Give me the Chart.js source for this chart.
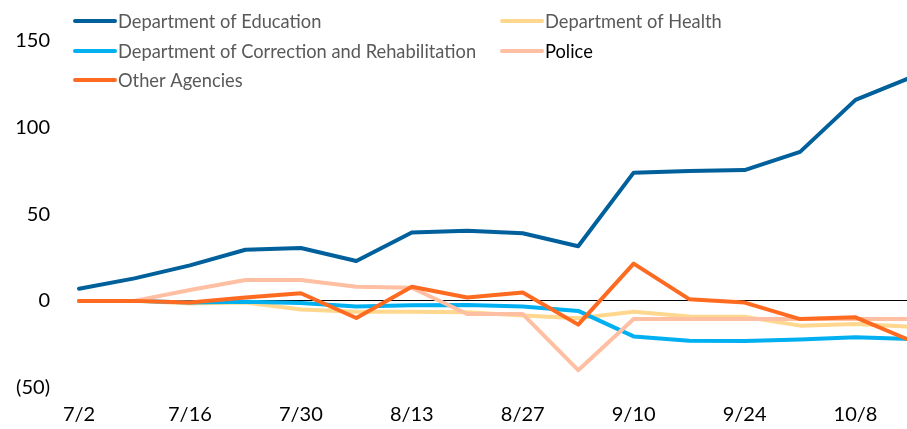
<!DOCTYPE html>
<html>
<head>
<meta charset="utf-8">
<script src="https://cdn.jsdelivr.net/npm/chart.js@4"></script>
<style>
  html, body { margin: 0; padding: 0; background: #fff; }
  #wrap { width: 907px; height: 429px; overflow: hidden; position: relative; }
</style>
</head>
<body>
<div id="wrap">
  <!-- wider than the window: the last week is cut off at the right edge, like the original -->
  <canvas id="myChart" width="926" height="429"></canvas>
</div>
<script>
// weekly dates, only every other one gets a tick label
const weeks = ['7/2', '7/9', '7/16', '7/23', '7/30', '8/6', '8/13', '8/20',
  '8/27', '9/3', '9/10', '9/17', '9/24', '10/1', '10/8', '10/15'];

const education = [7, 13, 20.5, 29.5, 30.5, 23, 39.5, 40.5, 39, 31.5, 74, 75, 75.5, 86, 116, 129];
const health = [0, 0, -1.5, -1, -5, -6.3, -6.3, -6.5, -8.5, -10, -6.3, -9, -9.2, -14.3, -13.3, -15];
const correction = [0, 0, -1, -0.5, -1.2, -3.2, -2.5, -2.4, -3.2, -5.8, -20.5, -23, -23.2, -22.3, -21, -22];
const police = [0, 0, 6.3, 12, 12, 8.2, 7.6, -7.6, -7.6, -40, -10.5, -10.5, -10.5, -10.5, -10.5, -10.5];
const other = [0, 0, -1, 1.9, 4.4, -9.9, 8.2, 1.9, 4.8, -13.7, 21.5, 1, -1, -10.5, -9.5, -23];

const yTicks = [-50, 0, 50, 100, 150];

const FONT = 'Lato, "Open Sans", sans-serif';

// legend drawn in two columns, filled row by row like the original
const legendPlugin = {
  id: 'twoColLegend',
  afterDraw(chart) {
    const ctx = chart.ctx;
    const colX = [75, 502];
    const rowY = [21, 51, 80];
    ctx.save();
    ctx.font = '18.3px ' + FONT;
    ctx.textBaseline = 'middle';
    chart.data.datasets.forEach((ds, i) => {
      const x = colX[i % 2];
      const y = rowY[Math.floor(i / 2)];
      ctx.strokeStyle = ds.borderColor;
      ctx.lineWidth = 4;
      ctx.lineCap = 'round';
      ctx.beginPath();
      ctx.moveTo(x, y);
      ctx.lineTo(x + 40, y);
      ctx.stroke();
      ctx.fillStyle = ds.legendColor || '#595959';
      ctx.fillText(ds.label, x + 43, y + 1);
    });
    ctx.restore();
  }
};

const line = (label, data, color, order, extra) => Object.assign({
  label: label,
  data: data,
  borderColor: color,
  backgroundColor: color,
  borderWidth: 4,
  borderCapStyle: 'round',
  borderJoinStyle: 'round',
  pointRadius: 0,
  tension: 0,
  order: order
}, extra || {});

const ctx = document.getElementById('myChart').getContext('2d');
new Chart(ctx, {
  type: 'line',
  data: {
    labels: weeks,
    datasets: [
      line('Department of Education', education, '#00609C', 5),
      line('Department of Health', health, '#FFD78F', 4),
      line('Department of Correction and Rehabilitation', correction, '#00B0F0', 3),
      line('Police', police, '#FFBFA2', 2, { legendColor: '#000' }),
      line('Other Agencies', other, '#FF6A21', 1)
    ]
  },
  options: {
    responsive: false,
    animation: false,
    layout: { padding: { top: 37, right: 0, left: 0, bottom: 0 } },
    plugins: {
      legend: { display: false },
      tooltip: { enabled: false }
    },
    scales: {
      x: {
        type: 'category',
        offset: false,
        grid: { display: false, drawTicks: false },
        border: { display: false },
        ticks: {
          autoSkip: false,
          maxRotation: 0,
          padding: 15,
          color: '#000',
          font: { family: FONT, size: 20 },
          callback: (v, i) => (i % 2 === 0 ? weeks[i] : '')
        },
        afterFit: (scale) => { scale.height = 41.5; }
      },
      y: {
        min: yTicks[0],
        max: yTicks[yTicks.length - 1],
        afterBuildTicks: (scale) => { scale.ticks = yTicks.map(v => ({ value: v })); },
        grid: {
          drawTicks: false,
          color: (c) => (c.tick && c.tick.value === 0 ? '#000' : 'rgba(0,0,0,0)'),
          lineWidth: 1
        },
        border: { display: false },
        ticks: {
          padding: 29,
          color: '#000',
          font: { family: FONT, size: 20 },
          callback: (v) => (v < 0 ? '(' + (-v) + ')' : String(v))
        },
        afterFit: (scale) => { scale.width = 79; }
      }
    }
  },
  plugins: [legendPlugin]
});
</script>
</body>
</html>
